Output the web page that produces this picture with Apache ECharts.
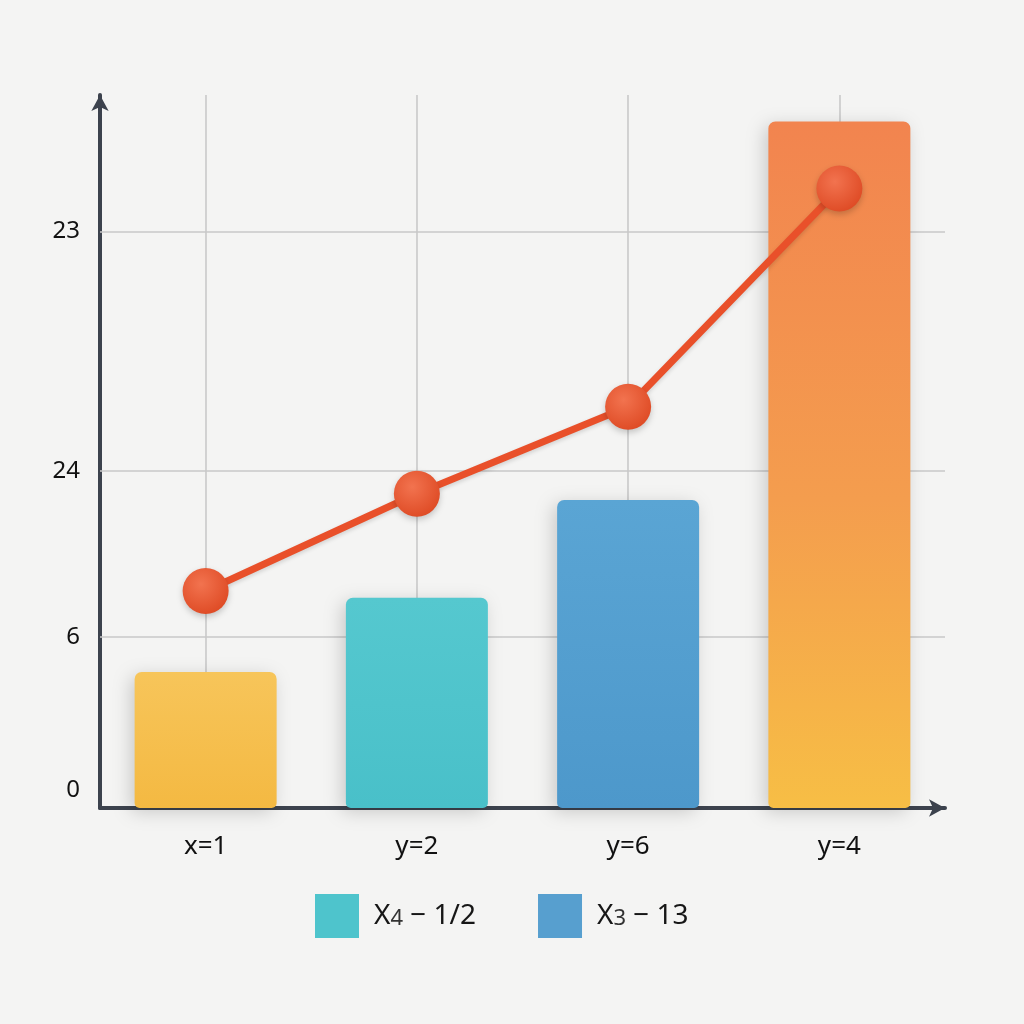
<!DOCTYPE html>
<html>
<head>
<meta charset="utf-8">
<script src="https://cdn.jsdelivr.net/npm/echarts@6/dist/echarts.min.js"></script>
<style>
html,body{margin:0;padding:0;background:#f4f4f3;}
#c{width:1024px;height:1024px;}
</style>
</head>
<body>
<div id="c"></div>
<script>
const categories = ['x=1', 'y=2', 'y=6', 'y=4'];
const barValues = [4.77, 7.37, 10.8, 24.07];
const lineValues = [7.61, 11.02, 14.07, 21.72];
const yTickValues = [0, 6, 11.82, 20.21];
const yTickLabels = ['0', '6', '24', '23'];
const legendNames = ['X4 − 1/2', 'X3 − 13'];

const FONT = 'Noto Sans';
const barStyles = [
  new echarts.graphic.LinearGradient(0, 0, 0, 1, [{offset: 0, color: '#F7C55A'}, {offset: 1, color: '#F4B942'}]),
  new echarts.graphic.LinearGradient(0, 0, 0, 1, [{offset: 0, color: '#55C8CF'}, {offset: 1, color: '#49C0C9'}]),
  new echarts.graphic.LinearGradient(0, 0, 0, 1, [{offset: 0, color: '#5AA5D4'}, {offset: 1, color: '#4D98CB'}]),
  new echarts.graphic.LinearGradient(0, 0, 0, 1, [{offset: 0, color: '#F2844F'}, {offset: 0.55, color: '#F49D4E'}, {offset: 1, color: '#F7BE45'}])
];
const legendColors = ['#4EC4CC', '#579FCF'];

const chart = echarts.init(document.getElementById('c'), null, {renderer: 'canvas'});

const gridMarks = [];
yTickValues.forEach((v, i) => { if (i > 0) gridMarks.push({yAxis: v}); });
categories.forEach(c => gridMarks.push({xAxis: c}));

chart.setOption({
  backgroundColor: '#f4f4f3',
  animation: false,
  grid: {left: 100, right: 79, top: 95, bottom: 216},
  legend: {
    top: 889,
    left: 310,
    itemWidth: 44,
    itemHeight: 44,
    itemGap: 62,
    icon: 'rect',
    data: legendNames,
    formatter: function (n) {
      const m = n.match(/^X(\d)(.*)$/);
      return m ? '{b|X}{s|' + m[1] + '}{b|' + m[2] + '}' : n;
    },
    textStyle: {
      padding: [0, 0, 0, 10],
      rich: {
        b: {fontFamily: FONT, fontSize: 28, color: '#161616'},
        s: {fontFamily: FONT, fontSize: 22, color: '#333', padding: [6, 0, 0, 0]}
      }
    }
  },
  xAxis: {
    type: 'category',
    data: categories,
    boundaryGap: true,
    axisLine: {show: true, symbol: ['none', 'arrow'], symbolSize: [13, 16], lineStyle: {color: '#3c424d', width: 4}},
    axisTick: {show: false},
    splitLine: {show: false},
    axisLabel: {margin: 26, fontFamily: FONT, fontSize: 26, color: '#111'}
  },
  yAxis: {
    type: 'value',
    min: 0,
    max: 25,
    axisLine: {show: true, symbol: ['none', 'arrow'], symbolSize: [13, 16], lineStyle: {color: '#3c424d', width: 4}},
    axisTick: {show: false},
    splitLine: {show: false},
    axisLabel: {
      customValues: yTickValues,
      margin: 20,
      fontFamily: FONT,
      fontSize: 24,
      color: '#111',
      formatter: function (v) {
        let idx = 0, best = Infinity;
        yTickValues.forEach((t, i) => { if (Math.abs(t - v) < best) { best = Math.abs(t - v); idx = i; } });
        return idx === 0 ? '{z|' + yTickLabels[idx] + '}' : yTickLabels[idx];
      },
      rich: {z: {fontFamily: FONT, fontSize: 24, color: '#111', padding: [0, 0, 36, 0]}}
    }
  },
  series: [
    {
      type: 'line',
      data: [],
      z: 1,
      silent: true,
      markLine: {
        silent: true,
        z: 1,
        symbol: ['none', 'none'],
        label: {show: false},
        lineStyle: {color: '#c9c9c9', width: 1.6, type: 'solid'},
        data: gridMarks
      }
    },
    {
      name: 'bars',
      type: 'bar',
      z: 3,
      barWidth: 142,
      data: barValues.map((v, i) => ({
        value: v,
        itemStyle: {
          color: barStyles[i],
          borderRadius: [7, 7, 5, 5],
          shadowColor: 'rgba(0,0,0,0.18)',
          shadowBlur: 18,
          shadowOffsetX: -4,
          shadowOffsetY: 4
        }
      }))
    },
    {
      name: 'line',
      type: 'line',
      z: 5,
      data: lineValues,
      symbol: 'circle',
      symbolSize: 46,
      lineStyle: {color: '#E9502A', width: 7, shadowColor: 'rgba(0,0,0,0.15)', shadowBlur: 4, shadowOffsetY: 2},
      itemStyle: {
        color: new echarts.graphic.RadialGradient(0.4, 0.35, 0.7, [{offset: 0, color: '#F2734F'}, {offset: 1, color: '#DE4A24'}]),
        shadowColor: 'rgba(0,0,0,0.2)',
        shadowBlur: 6,
        shadowOffsetY: 3
      }
    },
    {name: legendNames[0], type: 'scatter', data: [], itemStyle: {color: legendColors[0], opacity: 1}},
    {name: legendNames[1], type: 'scatter', data: [], itemStyle: {color: legendColors[1], opacity: 1}}
  ]
});
</script>
</body>
</html>
